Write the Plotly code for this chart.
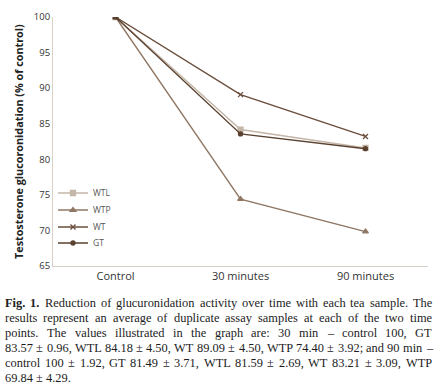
import plotly.graph_objects as go

categories = ["Control", "30 minutes", "90 minutes"]
wtl = [100, 84.18, 81.59]
wtp = [100, 74.40, 69.84]
wt = [100, 89.09, 83.21]
gt = [100, 83.57, 81.49]
y_ticks = [65, 70, 75, 80, 85, 90, 95, 100]

caption_lines = [
    "Reduction of glucuronidation activity over time with each tea sample. The",
    "results represent an average of duplicate assay samples at each of the two time",
    "points. The values illustrated in the graph are: 30 min – control 100, GT",
    "83.57 ± 0.96, WTL 84.18 ± 4.50, WT 89.09 ± 4.50, WTP 74.40 ± 3.92; and 90 min –",
    "control 100 ± 1.92, GT 81.49 ± 3.71, WTL 81.59 ± 2.69, WT 83.21 ± 3.09, WTP",
    "69.84 ± 4.29.",
]
caption_label = "Fig. 1."

series = [
    ("WTL", wtl, "#c4b6a8", "square", 5),
    ("WTP", wtp, "#8f7764", "triangle-up", 5),
    ("WT", wt, "#6a4f3d", "x-thin-open", 5),
    ("GT", gt, "#5a412f", "circle", 4),
]

# plot-area geometry in pixels
W, H = 440, 387
PL, PR, PT, PB = 53, 12, 17, 121
PW, PH = W - PL - PR, H - PT - PB


def px_x(x):
    return (x - PL) / PW


def px_y(y):
    return (H - PB - y) / PH


# Times-like (Liberation Serif) advance widths, per 1000 em
TW = {" ": 250, ".": 250, ",": 250, ":": 278, ";": 278, "±": 564, "–": 500,
      "a": 444, "b": 500, "c": 444, "d": 500, "e": 444, "f": 333, "g": 500,
      "h": 500, "i": 278, "j": 278, "k": 500, "l": 278, "m": 778, "n": 500,
      "o": 500, "p": 500, "q": 500, "r": 333, "s": 389, "t": 278, "u": 500,
      "v": 500, "w": 722, "x": 500, "y": 500, "z": 444,
      "F": 556, "G": 722, "L": 611, "P": 556, "R": 667, "T": 611, "W": 944}


def text_w(s, size, bold=False):
    tot = 0
    for ch in s:
        if ch.isdigit():
            tot += 500
        else:
            tot += TW.get(ch, 500)
    return tot * size / 1000 * (1.04 if bold else 1.0)


fig = go.Figure()
legend_y = [193, 210, 227, 243]
for i, (name, vals, col, sym, ms) in enumerate(series):
    lg = "legend" if i == 0 else f"legend{i + 1}"
    fig.add_trace(go.Scatter(
        x=categories, y=vals, name=name, mode="lines+markers",
        line=dict(color=col, width=1.4),
        marker=dict(symbol=sym, size=ms, color=col, line=dict(color=col, width=1.3)),
        legend=lg,
    ))
    fig.update_layout({lg: dict(x=px_x(53), y=px_y(legend_y[i]), xanchor="left",
                                yanchor="middle", bgcolor="rgba(0,0,0,0)",
                                itemwidth=30,
                                font=dict(family="Open Sans, sans-serif", size=8.5, color="#555"))})

fig.update_layout(
    width=W, height=H,
    margin=dict(l=PL, r=PR, t=PT, b=PB, autoexpand=False),
    plot_bgcolor="white", paper_bgcolor="white",
    font=dict(family="Open Sans, sans-serif", color="#333"),
    showlegend=True,
    xaxis=dict(range=[-0.5, 2.5], showline=True, linecolor="#d9d1c8", linewidth=1,
               ticks="", tickfont=dict(size=11, color="#333"), showgrid=False,
               automargin=False),
    yaxis=dict(range=[65, 100], tickvals=y_ticks, showline=True, linecolor="#d9d1c8",
               linewidth=1, ticks="", tickfont=dict(size=9.5, color="#333"), showgrid=False,
               zeroline=False, automargin=False),
)

fig.add_annotation(
    text="<b>Testosterone glucoronidation (% of control)</b>",
    xref="paper", yref="paper", x=px_x(18), y=px_y(142), xanchor="center",
    yanchor="middle", textangle=-90, showarrow=False,
    font=dict(family="Open Sans, sans-serif", size=10.8, color="#222"),
)

# justified caption, word by word
CS = 12.4
left, right = 5, 432
line_y = [303, 318, 333, 348, 363, 378]
serif = dict(family="Liberation Serif, serif", size=CS, color="#1c1c1c")
for i, line in enumerate(caption_lines):
    words = line.split(" ")
    items = [(w, False) for w in words]
    if i == 0:
        items = [("Fig.", True), ("1.", True)] + items
    widths = [text_w(w, CS, b) for w, b in items]
    last = i == len(caption_lines) - 1
    if last or len(items) < 2:
        gap = text_w(" ", CS)
    else:
        gap = (right - left - sum(widths)) / (len(items) - 1)
    x = left
    for (w, b), wd in zip(items, widths):
        fig.add_annotation(
            text=f"<b>{w}</b>" if b else w, xref="paper", yref="paper",
            x=px_x(x - 1), y=px_y(line_y[i]), xanchor="left", yanchor="middle",
            showarrow=False, font=serif, borderpad=0,
        )
        x += wd + gap

fig.write_html("out.html", config={"displayModeBar": False},
               post_script="document.body.style.margin='0';document.body.style.overflow='hidden';")
